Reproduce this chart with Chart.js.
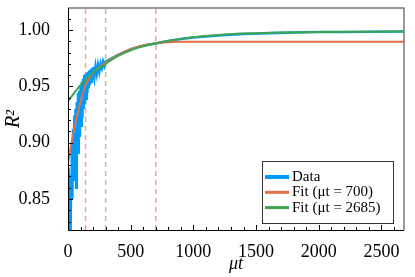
<!DOCTYPE html>
<html>
<head>
<meta charset="utf-8">
<script src="https://cdn.jsdelivr.net/npm/chart.js@4.4.1/dist/chart.umd.min.js"></script>
<style>
  html, body { margin: 0; padding: 0; background: #fff; }
  #wrap { width: 415px; height: 277px; }
</style>
</head>
<body>
<div id="wrap"><canvas id="fitChart" width="415" height="277"></canvas></div>
<script>
// measured R^2 against mu*t
const dataT = [0, 5, 10, 15, 20, 25, 30, 35, 40, 45, 50, 55, 60, 65, 70, 75, 80, 85, 90, 95,
    100, 105, 110, 115, 120, 125, 130, 135, 140, 145, 150, 155, 160, 165, 170, 175, 180, 185, 190, 195,
    200, 210, 220, 230, 240, 250, 260, 270, 280, 290, 300,
    350, 400, 500, 600, 700, 800, 900, 1000, 1200, 1400, 1600, 1800, 2000, 2200, 2400, 2680];
const dataR2 = [0.878, 0.840, 0.872, 0.830, 0.815, 0.862, 0.900, 0.850, 0.912, 0.866, 0.924, 0.878, 0.930, 0.860, 0.936, 0.898, 0.944, 0.890, 0.946, 0.905,
    0.950, 0.915, 0.954, 0.922, 0.957, 0.930, 0.960, 0.934, 0.961, 0.939, 0.962, 0.944, 0.963, 0.948, 0.964, 0.951, 0.965, 0.954, 0.966, 0.956,
    0.967, 0.958, 0.968, 0.961, 0.969, 0.963, 0.970, 0.966, 0.972, 0.968, 0.972,
    0.975, 0.978, 0.983, 0.986, 0.988, 0.9903, 0.9920, 0.9933, 0.9952, 0.9964, 0.9972, 0.9978, 0.9981, 0.9983, 0.9985, 0.9986];

// fit over mu*t <= 700
const fit700T = [0, 25, 50, 75, 100, 140, 200, 250, 300, 400, 500, 600, 700, 800, 900, 1000, 1500, 2000, 2680];
const fit700R2 = [0.882, 0.898, 0.912, 0.925, 0.936, 0.951, 0.962, 0.967, 0.971, 0.978, 0.983, 0.9865, 0.9883, 0.9891, 0.9895, 0.9896, 0.9896, 0.9896, 0.9896];

// fit over mu*t <= 2685
const fit2685T = [0, 100, 200, 300, 400, 500, 600, 700, 800, 900, 1000, 1200, 1400, 1600, 2000, 2680];
const fit2685R2 = [0.937, 0.951, 0.962, 0.970, 0.977, 0.982, 0.9855, 0.9882, 0.9904, 0.9921, 0.9935, 0.9955, 0.9968, 0.9976, 0.9983, 0.9986];

// dashed markers
const orangeMarks = [140, 700];
const greenMarks = [300];

const xTicks = [0, 500, 1000, 1500, 2000, 2500];
const yTicks = [0.85, 0.90, 0.95, 1.00];
const legendLabels = ['Data', 'Fit (\u03BCt = 700)', 'Fit (\u03BCt = 2685)'];

const xMin = 0, xMax = 2680;
const yMin = 0.8225, yMax = 1.0195;

const BLUE = '#009AFA';
const ORANGE = '#E36F47';
const GREEN = '#3EA44E';
const FONT = "'Liberation Serif', 'DejaVu Serif', serif";

const pts = (xs, ys) => xs.map((x, i) => ({ x: x, y: ys[i] }));
const vline = (x, color) => ({
    data: [{ x: x, y: yMin }, { x: x, y: yMax }],
    borderColor: color,
    borderWidth: 1.5,
    borderDash: [5, 4],
    pointRadius: 0,
    order: 5,
});

const frameAndTicks = {
    id: 'frameAndTicks',
    afterDatasetsDraw(chart) {
        const { ctx, chartArea: a, scales } = chart;
        const xs = scales.x, ys = scales.y;
        ctx.save();
        // gray top/right frame
        ctx.strokeStyle = '#7a7a7a';
        ctx.lineWidth = 1.5;
        ctx.beginPath();
        ctx.moveTo(a.left, a.top);
        ctx.lineTo(a.right, a.top);
        ctx.lineTo(a.right, a.bottom);
        ctx.stroke();
        // black axes
        ctx.strokeStyle = '#000';
        ctx.lineWidth = 1;
        ctx.beginPath();
        ctx.moveTo(a.left + 0.5, a.top);
        ctx.lineTo(a.left + 0.5, a.bottom + 0.5);
        ctx.lineTo(a.right, a.bottom + 0.5);
        ctx.stroke();
        ctx.beginPath();
        for (let v = 100; v <= xMax; v += 100) {
            const px = Math.round(xs.getPixelForValue(v)) + 0.5;
            const len = xTicks.includes(v) ? 5 : 3;
            ctx.moveTo(px, a.bottom);
            ctx.lineTo(px, a.bottom - len);
        }
        for (let k = 83; k <= 101; k++) {
            const v = k / 100;
            if (v < yMin || v > yMax) continue;
            const py = Math.round(ys.getPixelForValue(v)) + 0.5;
            const len = (k % 5 === 0) ? 5 : 3;
            ctx.moveTo(a.left, py);
            ctx.lineTo(a.left + len, py);
        }
        ctx.stroke();
        ctx.restore();
    },
    afterDraw(chart) {
        const { ctx, chartArea: a } = chart;
        const items = [
            { label: legendLabels[0], color: BLUE, w: 4 },
            { label: legendLabels[1], color: ORANGE, w: 3 },
            { label: legendLabels[2], color: GREEN, w: 3 },
        ];
        const bw = 131, bh = 62;
        const bx = a.right - 11 - bw, by = a.bottom - 7 - bh;
        ctx.save();
        ctx.fillStyle = '#fff';
        ctx.fillRect(bx, by, bw, bh);
        ctx.strokeStyle = '#333';
        ctx.lineWidth = 1;
        ctx.strokeRect(bx + 0.5, by + 0.5, bw, bh);
        ctx.font = '15px ' + FONT;
        ctx.textBaseline = 'middle';
        ctx.fillStyle = '#000';
        items.forEach((it, i) => {
            const y = by + 16 + i * 15.3;
            ctx.strokeStyle = it.color;
            ctx.lineWidth = it.w;
            ctx.beginPath();
            ctx.moveTo(bx + 3, y);
            ctx.lineTo(bx + 27, y);
            ctx.stroke();
            ctx.fillText(it.label, bx + 30, y);
        });
        ctx.restore();
    },
};

const ctx = document.getElementById('fitChart').getContext('2d');
// eslint-disable-next-line no-new
new Chart(ctx, {
    type: 'line',
    data: {
        datasets: [
            {
                label: legendLabels[2],
                data: pts(fit2685T, fit2685R2),
                borderColor: GREEN,
                borderWidth: 2,
                pointRadius: 0,
                cubicInterpolationMode: 'monotone',
                order: 0,
            },
            {
                label: legendLabels[1],
                data: pts(fit700T, fit700R2),
                borderColor: ORANGE,
                borderWidth: 2,
                pointRadius: 0,
                cubicInterpolationMode: 'monotone',
                order: 1,
            },
            {
                label: legendLabels[0],
                data: pts(dataT, dataR2),
                borderColor: BLUE,
                borderWidth: 2.5,
                pointRadius: 0,
                tension: 0,
                order: 2,
            },
            ...orangeMarks.map(x => vline(x, '#F0A68E')),
            ...greenMarks.map(x => vline(x, '#9FD2A7')),
        ],
    },
    options: {
        responsive: false,
        animation: false,
        layout: { padding: { top: 8, right: 11, left: 0, bottom: 0 } },
        plugins: { legend: { display: false }, tooltip: { enabled: false } },
        scales: {
            x: {
                type: 'linear',
                min: xMin,
                max: xMax,
                afterBuildTicks: s => { s.ticks = xTicks.map(v => ({ value: v })); },
                afterFit: s => { s.height = 47; s.paddingLeft = 0; s.paddingRight = 0; },
                grid: { display: false },
                border: { display: false },
                ticks: {
                    color: '#000',
                    padding: 3,
                    maxRotation: 0,
                    font: { family: FONT, size: 18 },
                    callback: v => String(v),
                },
                title: {
                    display: true,
                    text: '\u03BCt',
                    color: '#000',
                    padding: { top: 0, bottom: 2 },
                    font: { family: FONT, size: 18, style: 'italic' },
                },
            },
            y: {
                type: 'linear',
                min: yMin,
                max: yMax,
                afterBuildTicks: s => { s.ticks = yTicks.map(v => ({ value: v })); },
                afterFit: s => { s.width = 68; s.paddingTop = 0; s.paddingBottom = 0; },
                grid: { display: false },
                border: { display: false },
                ticks: {
                    color: '#000',
                    padding: 10,
                    font: { family: FONT, size: 18 },
                    callback: v => v.toFixed(2),
                },
                title: {
                    display: true,
                    text: 'R\u00B2',
                    color: '#000',
                    padding: { top: 2, bottom: 0 },
                    font: { family: FONT, size: 20, style: 'italic' },
                },
            },
        },
    },
    plugins: [frameAndTicks],
});
</script>
</body>
</html>
